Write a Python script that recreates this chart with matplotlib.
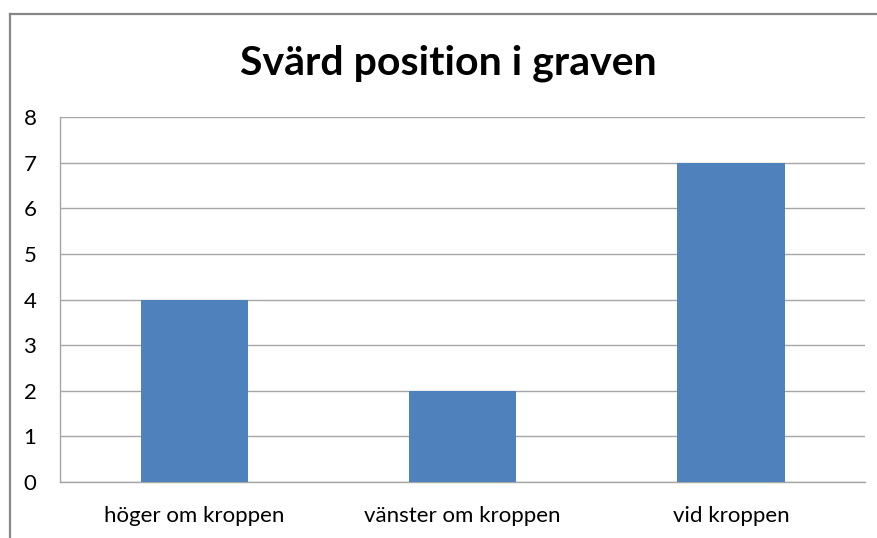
import matplotlib
matplotlib.use("Agg")
import matplotlib.pyplot as plt
from matplotlib.lines import Line2D

categories = ["höger om kroppen", "vänster om kroppen", "vid kroppen"]
values = [4, 2, 7]
yticks = [0, 1, 2, 3, 4, 5, 6, 7, 8]
title = "Svärd position i graven"

plt.rcParams['font.family'] = ['Lato', 'DejaVu Sans']

W, H = 877, 538
fig = plt.figure(figsize=(W / 100, H / 100), dpi=100)

# outer chart border (top and left visible)
fig.add_artist(Line2D([10 / W, 1], [1 - 14 / H, 1 - 14 / H], color='#868686', lw=1.6))
fig.add_artist(Line2D([10 / W, 10 / W], [0, 1 - 14 / H], color='#868686', lw=1.6))

ax = fig.add_axes([60 / W, 56 / H, 805 / W, 365 / H])
x = list(range(len(categories)))
ax.bar(x, values, width=0.4, color='#4f81bd', zorder=3)

ax.set_xlim(-0.5, len(categories) - 0.5)
ax.set_ylim(0, 8)
ax.set_yticks(yticks)
ax.set_yticklabels([str(v) for v in yticks], fontsize=16)
ax.set_xticks(x)
ax.set_xticklabels(categories, fontsize=16)
ax.tick_params(axis='both', length=0, colors='black')
ax.tick_params(axis='y', pad=17)
ax.tick_params(axis='x', pad=17)

ax.grid(axis='y', color='#a6a6a6', lw=1.0, zorder=0)
for s in ['top', 'right']:
    ax.spines[s].set_visible(False)
for s in ['left', 'bottom']:
    ax.spines[s].set_color('#a6a6a6')
    ax.spines[s].set_linewidth(1.0)

fig.text(448 / W, 1 - 63 / H, title, ha='center', va='center', fontsize=29.5, fontweight='bold')

fig.savefig("out.png", dpi=100)
